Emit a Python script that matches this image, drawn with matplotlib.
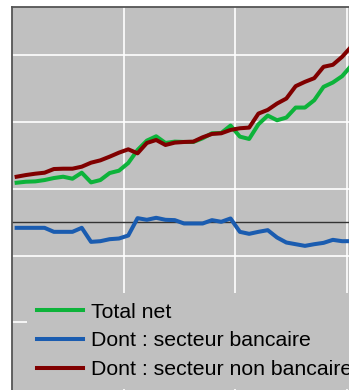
import numpy as np
import matplotlib
matplotlib.use("Agg")
import matplotlib.pyplot as plt

# Quarterly series (units arbitrary, zero = black line)
total_net = [11.8, 12.1, 12.2, 12.6, 13.2, 13.6, 13.0, 14.8, 11.9, 12.6,
             14.7, 15.4, 17.7, 21.6, 24.4, 25.7, 23.7, 24.1, 24.0, 24.0,
             25.1, 26.6, 26.7, 28.9, 25.6, 24.9, 29.3, 31.9, 30.5, 31.3,
             34.3, 34.3, 36.5, 40.5, 41.8, 43.7, 46.9]
bancaire = [-1.7, -1.7, -1.7, -1.7, -2.9, -2.9, -2.9, -1.7, -5.9, -5.7,
            -5.1, -4.9, -4.0, 1.2, 0.7, 1.3, 0.7, 0.6, -0.4, -0.4,
            -0.4, 0.6, 0.1, 1.1, -2.9, -3.5, -2.9, -2.4, -4.6, -6.1,
            -6.6, -7.1, -6.6, -6.2, -5.3, -5.7, -5.7]
non_bancaire = [13.6, 14.1, 14.5, 14.8, 15.9, 16.0, 16.0, 16.6, 17.8, 18.5,
                19.6, 20.8, 21.8, 20.6, 23.7, 24.6, 23.1, 23.8, 24.0, 24.1,
                25.4, 26.4, 26.6, 27.6, 28.1, 28.3, 32.5, 33.6, 35.5, 37.0,
                40.7, 42.0, 43.1, 46.5, 47.1, 49.5, 52.6]
labels = ["Total net", "Dont : secteur bancaire", "Dont : secteur non bancaire"]
colors = ["#0db33a", "#1a5cb0", "#800000"]

W, H = 349, 390
fig = plt.figure(figsize=(W / 100, H / 100), dpi=100, facecolor="white")
plt.rcParams["font.family"] = ["Liberation Sans", "DejaVu Sans"]

# axes run past the right and bottom edges, like a cropped chart
left_px, top_px = 12, 7
axw_px, axh_px = 372, 449
ax = fig.add_axes([left_px / W, 1 - (top_px + axh_px) / H, axw_px / W, axh_px / H])
ax.set_facecolor("#c0c0c0")

x = np.arange(len(total_net))
ax.set_xlim(-0.5, 39.5)
ax.set_ylim(-70, 64.4)

ax.set_yticks([-30, -10, 10, 30, 50])
ax.set_xticks([11.5, 23.5, 35.5])
ax.grid(True, color="white", linewidth=1.2)
ax.set_axisbelow(True)
ax.tick_params(length=0, labelleft=False, labelbottom=False)
ax.axhline(0, color="#333333", linewidth=1, zorder=1.5)

for s in ["right", "bottom"]:
    ax.spines[s].set_visible(False)
for s in ["left", "top"]:
    ax.spines[s].set_color("#555555")
    ax.spines[s].set_linewidth(1.3)

lines = []
for data, c, lab in [(total_net, colors[0], labels[0]),
                     (bancaire, colors[1], labels[1]),
                     (non_bancaire, colors[2], labels[2])]:
    ln, = ax.plot(x, data, color=c, linewidth=2.9, label=lab,
                  solid_joinstyle="round", zorder=3)
    lines.append(ln)

leg = ax.legend(handles=lines, loc="upper left",
                bbox_to_anchor=(27 / W, 1 - 293 / H),
                bbox_transform=fig.transFigure, borderaxespad=0,
                fontsize=15.3, frameon=True, facecolor="#c0c0c0",
                edgecolor="none", framealpha=1, fancybox=False,
                handlelength=2.2, handletextpad=0.35, labelspacing=0.46,
                borderpad=0.45)
leg.set_zorder(5)
for h in leg.get_lines():
    h.set_linewidth(2.9)

fig.savefig("out.png", dpi=100, facecolor="white")
